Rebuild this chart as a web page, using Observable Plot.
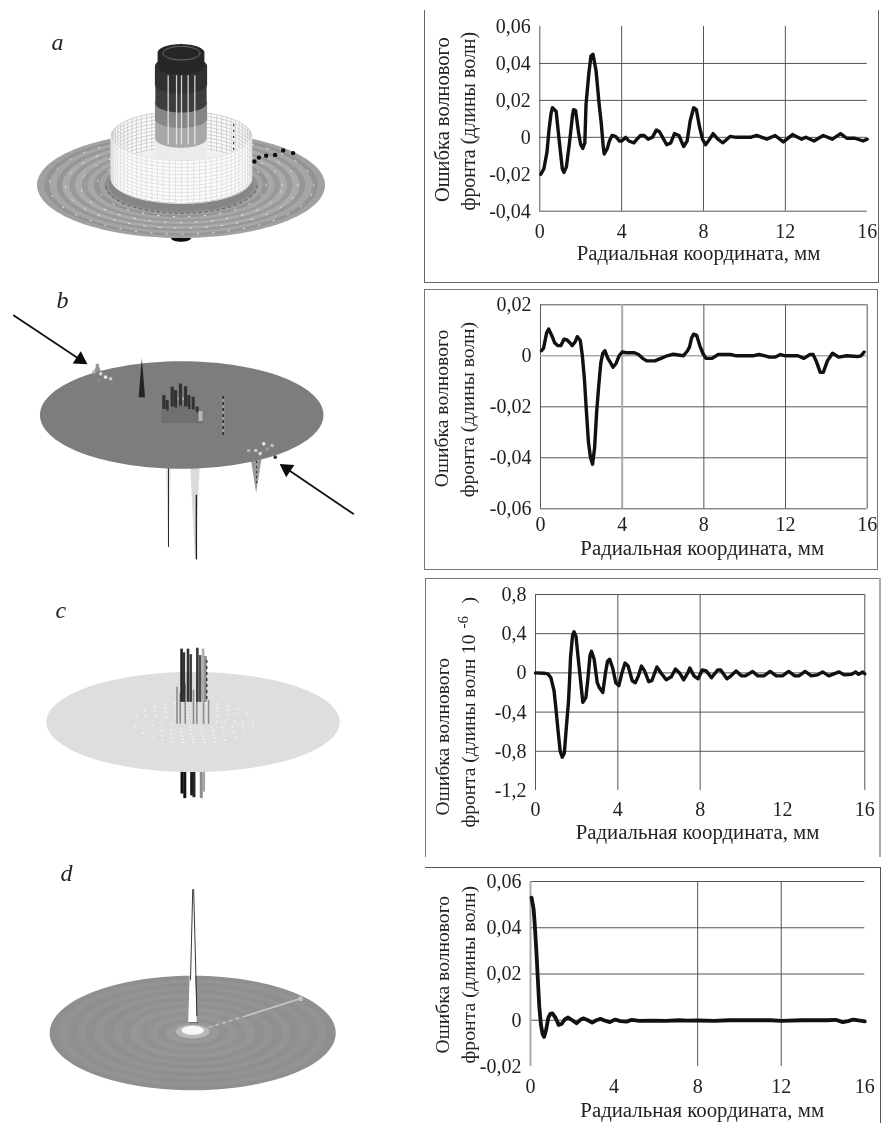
<!DOCTYPE html>
<html><head><meta charset="utf-8">
<script src="https://cdn.jsdelivr.net/npm/d3@7"></script>
<script src="https://cdn.jsdelivr.net/npm/@observablehq/plot@0.6"></script>
<style>
html,body{margin:0;background:#fff}
#page{position:relative;width:882px;height:1123px;overflow:hidden;background:#fff}
#page svg{position:absolute;overflow:visible;filter:blur(.4px)}
.frame{position:absolute;box-sizing:border-box;pointer-events:none}
</style></head><body><div id="page"></div>
<script>
// ---------- Wavefront error profiles (radial coordinate, mm / error) ----------
const xTicks = [0, 4, 8, 12, 16];
const xLabel = "Радиальная координата, мм";
const yLine1 = "Ошибка волнового";
const yLine2 = "фронта (длины волн)";
const yLine2c = "фронта (длины волн 10";

const aX = [0.05,0.2,0.35,0.45,0.55,0.62,0.8,0.95,1.1,1.18,1.3,1.45,1.6,1.65,1.75,1.9,2.0,2.1,2.2,2.26,2.4,2.5,2.6,2.75,2.9,3.0,3.1,3.15,3.3,3.4,3.53,3.7,3.9,4.0,4.1,4.2,4.35,4.6,4.75,4.92,5.1,5.3,5.5,5.7,5.85,6.05,6.2,6.4,6.58,6.8,7.03,7.2,7.35,7.52,7.65,7.8,7.95,8.1,8.3,8.47,8.7,8.95,9.3,9.6,10.0,10.3,10.6,11.1,11.5,11.9,12.35,12.8,13.0,13.4,13.85,14.3,14.7,15.0,15.4,15.8,16.0];
const aY = [-0.020,-0.017,-0.008,0.004,0.013,0.016,0.014,-0.002,-0.017,-0.019,-0.016,-0.003,0.012,0.015,0.0145,0.002,-0.004,-0.006,-0.003,0.018,0.035,0.044,0.045,0.036,0.018,0.008,-0.005,-0.009,-0.006,-0.002,0.001,0.0005,-0.002,-0.002,-0.001,0,-0.002,-0.003,-0.001,0.001,0.001,-0.001,0,0.004,0.003,-0.001,-0.004,-0.003,0.002,0.001,-0.005,-0.002,0.009,0.016,0.015,0.006,-0.001,-0.004,-0.001,0.002,-0.001,-0.003,0.0005,0,0,0,0.001,-0.001,0.001,-0.0025,0.0015,-0.001,0,-0.002,0.001,-0.001,0.002,-0.0005,-0.0005,-0.002,-0.001];

const bX = [0.05,0.15,0.3,0.4,0.55,0.7,0.85,1.0,1.15,1.3,1.45,1.55,1.7,1.8,1.95,2.05,2.15,2.25,2.35,2.45,2.55,2.65,2.75,2.85,2.95,3.05,3.15,3.3,3.45,3.55,3.7,3.85,4.0,4.2,4.6,4.8,5.0,5.2,5.6,5.9,6.2,6.5,7.0,7.2,7.3,7.4,7.5,7.65,7.8,7.95,8.1,8.4,8.7,9.3,9.6,10.4,10.7,11.0,11.2,11.5,11.75,12.0,12.6,12.9,13.2,13.35,13.5,13.7,13.85,14.05,14.3,14.6,15.0,15.5,15.7,15.85];
const bY = [0.002,0.003,0.009,0.0105,0.008,0.005,0.004,0.004,0.0065,0.0062,0.005,0.004,0.0055,0.0075,0.006,0,-0.009,-0.022,-0.034,-0.040,-0.0425,-0.036,-0.022,-0.012,-0.003,0.001,0.002,-0.001,-0.003,-0.0045,-0.003,0,0.0015,0.0012,0.0012,0.0005,-0.001,-0.002,-0.002,-0.001,0,0.0006,0,0.002,0.0035,0.007,0.0085,0.008,0.004,0.001,-0.001,-0.001,0.0005,0.0005,0,0,0.0005,0,-0.0005,-0.0005,0.0005,0,0,-0.001,0.0005,0.0005,-0.002,-0.0065,-0.0065,-0.002,0.001,-0.0005,0,-0.0003,0,0.0015];

const cX = [0,0.4,0.6,0.75,0.9,1.0,1.1,1.2,1.3,1.4,1.5,1.6,1.65,1.7,1.8,1.87,1.97,2.05,2.15,2.25,2.3,2.45,2.55,2.65,2.72,2.85,3.0,3.1,3.27,3.4,3.5,3.6,3.75,3.9,4.05,4.2,4.35,4.5,4.7,4.85,5.0,5.15,5.3,5.5,5.65,5.9,6.1,6.35,6.6,6.8,7.0,7.2,7.4,7.5,7.7,7.9,8.1,8.3,8.55,8.85,9.0,9.3,9.5,9.75,10.0,10.2,10.55,10.8,11.1,11.4,11.7,12.0,12.3,12.6,12.8,13.1,13.4,13.7,13.95,14.25,14.5,14.75,15.0,15.35,15.55,15.7,15.9,16.0];
const cY = [0,-0.003,-0.01,-0.05,-0.18,-0.38,-0.6,-0.8,-0.86,-0.82,-0.55,-0.3,-0.1,0.15,0.38,0.42,0.37,0.2,0,-0.2,-0.3,-0.25,-0.05,0.18,0.22,0.14,-0.1,-0.15,-0.2,0,0.12,0.14,0.05,-0.1,-0.13,0,0.1,0.07,-0.08,-0.1,-0.03,0.07,0.02,-0.09,-0.08,0.06,0,-0.07,-0.04,0.04,0,-0.07,0,0.05,-0.03,-0.06,0.03,0.02,-0.05,0.03,0.03,-0.06,-0.03,0.02,-0.03,-0.03,0.015,-0.03,-0.03,0.015,-0.03,-0.03,0.015,-0.03,-0.03,0.015,-0.03,-0.02,0.01,-0.03,-0.01,0.01,-0.02,-0.015,0.01,-0.015,0.01,-0.01];

const dX = [0.05,0.15,0.2,0.28,0.35,0.42,0.5,0.58,0.65,0.75,0.85,0.95,1.05,1.2,1.35,1.5,1.65,1.8,2.0,2.2,2.4,2.55,2.75,2.95,3.15,3.35,3.6,3.8,4.05,4.3,4.6,4.85,5.2,5.8,6.5,7.1,7.5,8,8.8,9.5,10.5,11.5,12,13,14.2,14.6,14.95,15.2,15.45,15.7,16];
const dY = [0.053,0.048,0.042,0.03,0.018,0.006,-0.002,-0.006,-0.0072,-0.004,0.001,0.0028,0.003,0.001,-0.002,-0.0015,0.0005,0.0012,0,-0.0013,0.0003,0.0008,0,-0.001,0,0.0006,-0.0003,-0.0008,0.0003,-0.0004,-0.0006,0.0002,-0.0003,-0.0002,-0.0003,0,-0.0002,-0.0001,-0.0003,0,0,0,-0.0003,0,0,0.0002,-0.0008,-0.0004,0.0003,-0.0001,-0.0005];

const aYTicks = [0.06,0.04,0.02,0,-0.02,-0.04];
const bYTicks = [0.02,0,-0.02,-0.04,-0.06];
const cYTicks = [0.8,0.4,0,-0.4,-0.8,-1.2];
const dYTicks = [0.06,0.04,0.02,0,-0.02];

// ---------- Surface panels: radii and heights in mm, shade 0 = black, 1 = white ----------
const aRingR = [16,15.2,14.6,13.8,13.2,12.4,11.8,11,10.4,9.7,9.1,8.5,8];
const aRingS = [.63,.58,.65,.59,.67,.6,.67,.6,.66,.58,.64,.56,.52];
const aSpeckR = [14.7,12.9,11.2,9.4];
const aTowerR = [2.87,2.87,2.9,2.85,2.9,2.6];
const aTowerZ = [3.3,5.2,7.4,9.1,11.2,13.2,14.7];
const aTowerS = [.92,.66,.53,.24,.19,.15];
const aTowerLines = [-1.48,-0.55,0,0.74,1.48];
const aMeshZ = [0.73,1.13,1.53,1.93,2.33,2.73,3.13,3.53,3.93,4.33,4.73,5.13,5.5];
const aMeshA = d3.range(0,181,5);
const aDotsX = [8.1,8.6,9.4,10.4,11.3,12.4];
const aDotsY = [2.67,3.1,3.3,3.4,3.9,3.6];

const bClusterX = [-2.07,-1.7,-1.13,-0.75,-0.19,0.38,0.75,1.24,1.69,2.07];
const bClusterZ = [2.26,1.69,3.2,2.8,3.56,3.26,2.26,2.07,0.94,0.56];
const bLeftX = [-9.59,-9.96,-9.2,-8.65,-9.4,-8.08,-7.52];
const bLeftZ = [5.65,4.9,4.7,4.33,3.95,4.14,5.08];
const bLeftS = [.6,.7,.85,.9,.55,.8,.5];
const bRightX = [7.5,8.3,9.2,9.6,10.15,8.8,10.5];
const bRightZ = [-3.95,-3.95,-3.2,-3.8,-3.4,-4.3,-4.7];
const bRightS = [.7,.8,.9,.6,.75,.85,.2];

const cUpX = [-1.3,-1.05,-0.6,-0.3,0.42,0.72,1.05,1.3];
const cUpTop = [8,7.6,8,7.4,8.1,7.3,8,7.2];
const cUpS = [.14,.2,.2,.26,.22,.3,.68,.55];
const cInnerX = [-1.8,-1.45,-0.9,0,0.36,1.1,1.64];
const cInnerZ = [3.85,3.2,4.2,3.5,3.9,3.3,2.4];
const cDownX = [-1.25,-0.95,-0.2,0.05,0.85,1.1];
const cDownEnd = [-7.8,-8.3,-8,-8.2,-8.3,-7.6];
const cDownS = [.05,.08,.1,.15,.55,.65];
const cSpeckR = [1.5,2.5,3.5,4.5,5.5,6.5];

const dRingR = [16,15,14,13,12,11,10,9,8,7,6,5,4,3,2];
const dRingS = [.56,.575,.56,.575,.56,.58,.56,.58,.565,.59,.57,.59,.57,.6,.58];

// ---------- Helpers ----------
const FONT = "'Liberation Serif', serif";
const theta = d3.range(0, 181, 3).map(d => d * Math.PI / 180);
const shade = s => () => s;

function band(r, z0, z1, tilt, s) {
  const rows = theta.map(t => ({x: r * Math.cos(t), lo: z0 - r * tilt * Math.sin(t), hi: z1 + r * tilt * Math.sin(t)}));
  return Plot.area(rows, {x1: "x", y1: "lo", y2: "hi", fill: shade(s)});
}
const disc = (r, z, tilt, s) => band(r, z, z, tilt, s);
function rim(r, z, tilt, opts, half) {
  const rows = half === 1 ? theta.map(t => ({x: r * Math.cos(t), y: z - r * tilt * Math.sin(t)}))
    : half === -1 ? theta.map(t => ({x: r * Math.cos(t), y: z + r * tilt * Math.sin(t)}))
    : theta.concat(theta.map(t => t + Math.PI)).map(t => ({x: r * Math.cos(t), y: z + r * tilt * Math.sin(t)}));
  return Plot.line(rows, {x: "x", y: "y", ...opts});
}
const taper = (x, z0, z1, w, s) => Plot.area(
  [{x: x - w, lo: z0, hi: z0}, {x, lo: z1, hi: z0}, {x: x + w, lo: z0, hi: z0}],
  {x1: "x", y1: "lo", y2: "hi", fill: shade(s)});

const page = document.getElementById("page");
function place(svg, left, top) { svg.style.left = left + "px"; svg.style.top = top + "px"; page.appendChild(svg); }

function panel({left = 0, top, width = 400, height, cx, cy, k, letter, lx, ly}, marks) {
  const svg = Plot.plot({
    width, height, margin: 0,
    style: {background: "transparent", overflow: "visible", fontFamily: FONT},
    x: {domain: [(-cx) / k, (width - cx) / k], axis: null},
    y: {domain: [(cy - height) / k, cy / k], axis: null},
    color: {type: "linear", domain: [0, 1], range: ["#000", "#fff"]},
    marks: [...marks,
      Plot.text([letter], {frameAnchor: "top-left", dx: lx, dy: ly, fontStyle: "italic", fontSize: 24, fontFamily: FONT, fill: "#222", lineAnchor: "middle"})]
  });
  place(svg, left, top);
}

function profile({top, height, x0, x16, yTop, yBot, domain, ticks, X, Y, gridX, gridY, paleX = [], paleY = [], lines, xlab, tickDy, strokeWidth = 3.4, extra = []}) {
  const left = 420, width = 462;
  const ml = x0 - left, mt = yTop - top;
  const at = (text, px, py, o = {}) => Plot.text([text], {frameAnchor: "top-left", dx: px - x0, dy: py - yTop,
    fontFamily: FONT, fontSize: 20, fill: "#222", lineAnchor: "middle", ...o});
  const svg = Plot.plot({
    width, height, marginLeft: ml, marginRight: left + width - x16, marginTop: mt, marginBottom: top + height - yBot,
    style: {background: "transparent", overflow: "visible", fontFamily: FONT, fontSize: "20px", color: "#222"},
    x: {domain: [0, 16], axis: null},
    y: {domain, axis: null},
    marks: [
      Plot.ruleY(gridY, {x1: 0, x2: 16, stroke: "#555", strokeWidth: 1}),
      Plot.ruleX(gridX, {y1: domain[0], y2: domain[1], stroke: "#555", strokeWidth: 1}),
      Plot.ruleY(paleY, {x1: 0, x2: 16, stroke: "#aaa", strokeWidth: 1.5}),
      Plot.ruleX(paleX, {y1: domain[0], y2: domain[1], stroke: "#aaa", strokeWidth: 2}),
      Plot.axisX(xTicks, {anchor: "bottom", tickSize: 0, tickPadding: tickDy, label: null, fontSize: 20}),
      Plot.axisY(ticks, {anchor: "left", tickSize: 0, tickPadding: 9, label: null, fontSize: 20, tickFormat: d => String(d).replace(".", ",")}),
      Plot.line(Y, {x: X, y: Y, stroke: "#111", strokeWidth, strokeLinejoin: "round", curve: "linear"}),
      at(lines[0].t, lines[0].x, lines[0].y, {rotate: -90, textAnchor: "start", fontSize: lines[0].s}),
      at(lines[1].t, lines[1].x, lines[1].y, {rotate: -90, textAnchor: "start", fontSize: lines[1].s}),
      at(xLabel, xlab.x, xlab.y, {textAnchor: "middle", fontSize: 20.8}),
      ...extra.map(e => at(e.t, e.x, e.y, {rotate: -90, textAnchor: "start", fontSize: e.s}))
    ]
  });
  place(svg, left, top);
}

function frame(l, t, r, b, sides, color = "#666", w = 1) {
  const d = document.createElement("div");
  d.className = "frame";
  d.style.cssText = `left:${l}px;top:${t}px;width:${r - l}px;height:${b - t}px;` +
    sides.split("").map(s => `border-${{l: "left", r: "right", t: "top", b: "bottom"}[s]}:${w}px solid ${color};`).join("");
  page.appendChild(d);
}

// ---------- Frames ----------
frame(424, 10, 879, 283, "lrb");
frame(424, 289, 878, 570, "lrtb", "#777");
frame(425, 578, 881, 857, "lt", "#777");
frame(878, 578, 881, 857, "r", "#aaa", 2);
frame(425, 867, 881, 1123, "tr", "#555");

// ---------- Profiles ----------
profile({top: 0, height: 285, x0: 539.3, x16: 866.7, yTop: 26, yBot: 210.7, domain: [-0.04, 0.06], ticks: aYTicks, X: aX, Y: aY,
  gridX: [0,4,8,12], gridY: [0.04,0.02,0,-0.04], tickDy: 13,
  lines: [{t: yLine1, x: 441.7, y: 201.5, s: 20.5}, {t: yLine2, x: 468, y: 210, s: 19.9}], xlab: {x: 698, y: 253}});
profile({top: 285, height: 285, x0: 540, x16: 866.7, yTop: 304.3, yBot: 508.3, domain: [-0.06, 0.02], ticks: bYTicks, X: bX, Y: bY,
  gridX: [0,8,12,16], gridY: [0.02,-0.02,-0.04,-0.06], paleX: [4], paleY: [0], tickDy: 8,
  lines: [{t: yLine1, x: 441.7, y: 486.7, s: 19.6}, {t: yLine2, x: 467.7, y: 496.7, s: 19.5}], xlab: {x: 701.7, y: 548}});
profile({top: 570, height: 285, x0: 535, x16: 864.3, yTop: 594, yBot: 790, domain: [-1.2, 0.8], ticks: cYTicks, X: cX, Y: cY,
  gridX: [0,4,8,16], gridY: [0.8,0.4,0,-0.4,-0.8], tickDy: 11,
  lines: [{t: yLine1, x: 442.7, y: 815, s: 19.6}, {t: yLine2c, x: 468.3, y: 827, s: 19.5}],
  extra: [{t: "-6", x: 463, y: 628, s: 15}, {t: ")", x: 468.3, y: 603, s: 19.5}], xlab: {x: 697, y: 831.7}});
profile({top: 855, height: 268, x0: 530, x16: 864.3, yTop: 881, yBot: 1066, domain: [-0.02, 0.06], ticks: dYTicks, X: dX, Y: dY,
  gridX: [8,12], gridY: [0.06,0.04,0.02,0], paleX: [0], tickDy: 12, strokeWidth: 3.8,
  lines: [{t: yLine1, x: 442.7, y: 1053, s: 19.6}, {t: yLine2, x: 467.7, y: 1063, s: 19.8}], xlab: {x: 701.7, y: 1110}});

// ---------- Panel a ----------
{
  const t = 0.368, m = 0.35, R = 7.8;
  const meshFront = [], meshBack = [];
  aMeshZ.forEach((z, i) => aMeshA.forEach(a => {
    const c = Math.cos(a * Math.PI / 180), s = Math.sin(a * Math.PI / 180);
    meshFront.push({k: "h" + i, x: R * c, y: z - R * m * s});
    meshBack.push({k: "h" + i, x: R * c, y: z + R * m * s});
  }));
  aMeshA.forEach(a => {
    const c = Math.cos(a * Math.PI / 180), s = Math.sin(a * Math.PI / 180);
    [aMeshZ[0], aMeshZ[aMeshZ.length - 1]].forEach(z => {
      meshFront.push({k: "v" + a, x: R * c, y: z - R * m * s});
      meshBack.push({k: "v" + a, x: R * c, y: z + R * m * s});
    });
  });
  const bz = aMeshZ[0], tz = aMeshZ[aMeshZ.length - 1];
  const wall = (sgn, s) => Plot.area(theta.map(a => ({x: R * Math.cos(a), lo: bz + sgn * R * m * Math.sin(a), hi: tz + sgn * R * m * Math.sin(a)})),
    {x1: "x", y1: "lo", y2: "hi", fill: shade(s)});
  panel({top: 0, height: 280, cx: 181, cy: 185, k: 9, letter: "a", lx: 51, ly: 42}, [
    disc(1.1, -5.9, t, .05),
    ...aRingR.map((r, i) => disc(r, 0, t, aRingS[i])),
    ...aSpeckR.map(r => rim(r, 0, t, {stroke: "#fff", strokeWidth: 1, strokeDasharray: "1.5 14", strokeOpacity: .7})),
    rim(8.4, 0, t, {stroke: "#666", strokeWidth: 1.2, strokeDasharray: "2 4"}, 1),
    wall(1, .98),
    Plot.line(meshBack, {x: "x", y: "y", z: "k", stroke: "#c8c8c8", strokeWidth: .8}),
    disc(R, bz + .6, m, .94),
    ...aTowerR.map((r, i) => band(r, aTowerZ[i], aTowerZ[i + 1], t, aTowerS[i])),
    rim(2.05, aTowerZ[6], t, {stroke: "#777", strokeWidth: 1}),
    Plot.ruleX(aTowerLines, {y1: 4.5, y2: 12.2, stroke: "#eee", strokeWidth: 1.3, strokeOpacity: .85}),
    wall(-1, .99),
    Plot.line(meshFront, {x: "x", y: "y", z: "k", stroke: "#e0e0e0", strokeWidth: .9}),
    Plot.ruleX([5.8], {y1: 3.9, y2: 7.2, stroke: "#111", strokeWidth: 1, strokeDasharray: "2 4"}),
    Plot.dot(aDotsX, {x: aDotsX, y: aDotsY, r: 2.2, fill: shade(.05)})
  ]);
}

// ---------- Panel b ----------
{
  const t = 0.379;
  const arrowX1 = [-19.0, 19.3], arrowY1 = [11.3, -11.1], arrowX2 = [-11.5, 11.8], arrowY2 = [6.3, -6.0], arrowRot = [123, -56];
  panel({top: 280, height: 290, cx: 181.7, cy: 135, k: 8.86, letter: "b", lx: 56, ly: 20}, [
    taper(-1.5, -5.6, -14.9, .3, .9),
    Plot.ruleX([-1.55], {y1: -5.8, y2: -14.9, stroke: "#222", strokeWidth: 1}),
    taper(1.5, -5.6, -16.3, .55, .86),
    Plot.ruleX([1.6], {y1: -9, y2: -16.3, stroke: "#222", strokeWidth: 1.4}),
    taper(8.4, -5, -8.8, .6, .6),
    Plot.ruleX([8.4], {y1: -5.2, y2: -8, stroke: "#222", strokeWidth: 1, strokeDasharray: "2 3"}),
    taper(-9.5, 3.2, 5.9, 1.1, .58),
    disc(16, 0, t, .49),
    Plot.dot(bLeftX, {x: bLeftX, y: bLeftZ, r: 1.8, fill: d => bLeftS[bLeftX.indexOf(d)]}),
    Plot.dot(bRightX, {x: bRightX, y: bRightZ, r: 1.8, fill: d => bRightS[bRightX.indexOf(d)]}),
    taper(-4.5, 2.0, 6.4, .36, .14),
    disc(.5, 1.85, t, .66),
    Plot.ruleX(bClusterX, {y1: 0, y2: bClusterZ, stroke: shade(.2), strokeWidth: 3.2}),
    Plot.ruleX(bClusterX, {y1: -0.9, y2: bClusterZ.map(z => z * .3), stroke: shade(.44), strokeWidth: 5}),
    Plot.ruleX([2.07], {y1: -.7, y2: .5, stroke: shade(.72), strokeWidth: 4}),
    Plot.ruleX([4.62], {y1: -2.26, y2: 2.14, stroke: shade(.62), strokeWidth: 2.2}),
    Plot.ruleX([4.62], {y1: -2.26, y2: 2.14, stroke: shade(.1), strokeWidth: 1.4, strokeDasharray: "3 3"}),
    Plot.arrow(arrowX1, {x1: arrowX1, y1: arrowY1, x2: arrowX2, y2: arrowY2, stroke: "#111", strokeWidth: 1.8, headLength: 0}),
    Plot.dot(arrowX2, {x: arrowX2, y: arrowY2, symbol: "triangle", r: 5.5, rotate: arrowRot, fill: shade(.05)})
  ]);
}

// ---------- Panel c ----------
{
  const t = 0.341;
  panel({top: 570, height: 280, cx: 193, cy: 152, k: 9.17, letter: "c", lx: 55, ly: 40}, [
    ...cDownX.map((x, i) => Plot.ruleX([x], {y1: -4.5, y2: cDownEnd[i], stroke: shade(cDownS[i]), strokeWidth: 3})),
    disc(16, 0, t, .87),
    ...cSpeckR.map(r => rim(r, 0, t, {stroke: "#fff", strokeWidth: 1.1, strokeDasharray: "1.5 9", strokeOpacity: .75})),
    Plot.ruleX(cInnerX, {y1: -.2, y2: cInnerZ, stroke: shade(.55), strokeWidth: 1.6}),
    ...cUpX.map((x, i) => Plot.ruleX([x], {y1: 2.2, y2: cUpTop[i], stroke: shade(cUpS[i]), strokeWidth: 2.6})),
    Plot.ruleX([1.45], {y1: 2.5, y2: 7, stroke: shade(.1), strokeWidth: 1.2, strokeDasharray: "3 3"})
  ]);
}

// ---------- Panel d ----------
{
  const t = 0.4;
  panel({top: 850, height: 273, cx: 192.7, cy: 183, k: 8.94, letter: "d", lx: 60, ly: 23}, [
    ...dRingR.map((r, i) => disc(r, 0, t, dRingS[i])),
    Plot.line([6, 12], {x: [6, 12], y: [2, 3.9], stroke: shade(.76), strokeWidth: 2}),
    Plot.line([1.8, 6], {x: [1.8, 6], y: [.7, 2], stroke: shade(.76), strokeWidth: 1.5, strokeDasharray: "3 4"}),
    Plot.dot([12], {x: [12], y: [3.9], r: 2.5, fill: shade(.76)}),
    disc(1.9, .15, t, .72),
    disc(1.25, .3, t, .97),
    taper(-.03, 1.1, 16.1, .48, 1),
    Plot.line([-.05, -.3], {x: [-.05, -.3], y: [16.1, 6], stroke: "#222", strokeWidth: .9}),
    Plot.line([.05, .42], {x: [.05, .42], y: [16.1, 2], stroke: "#222", strokeWidth: .9}),
    Plot.line([-.5, .5], {x: [-.5, .5], y: [1.2, 1.2], stroke: "#444", strokeWidth: 1})
  ]);
}
</script></body></html>
